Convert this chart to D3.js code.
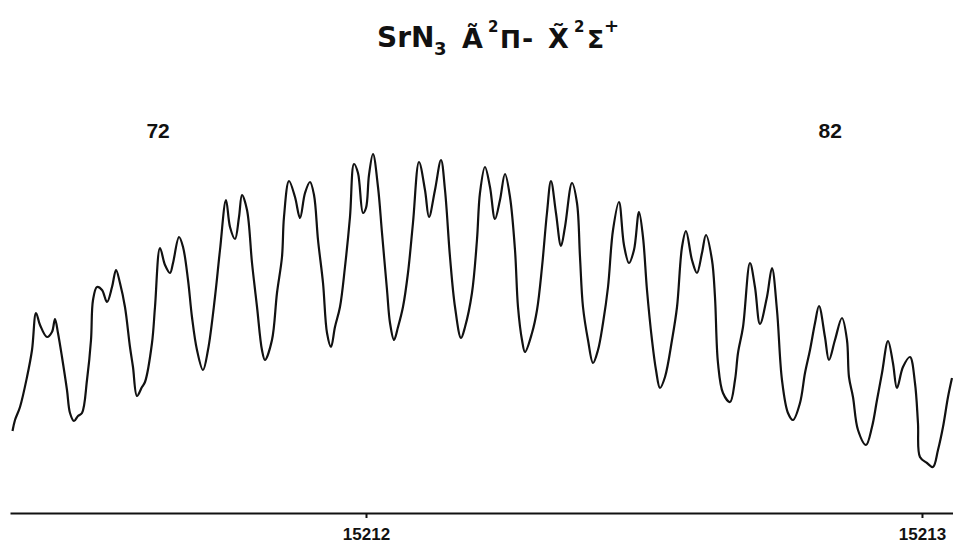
<!DOCTYPE html>
<html>
<head>
<meta charset="utf-8">
<script src="https://cdn.jsdelivr.net/npm/d3@7"></script>
<style>
  body { margin: 0; background: #fff; }
  svg { display: block; }
</style>
</head>
<body>
<div id="chart-container"></div>
<script>
// trace: wavenumber (cm-1) and intensity (arb. units)
const wavenumber = [
  15211.3642, 15211.3687, 15211.3777, 15211.3903, 15211.3993, 15211.4065, 15211.4137, 15211.4262,
  15211.4352, 15211.4406, 15211.4460, 15211.4532, 15211.4622, 15211.4676, 15211.4748, 15211.4820,
  15211.4892, 15211.4982, 15211.5054, 15211.5090, 15211.5162, 15211.5252, 15211.5342, 15211.5432,
  15211.5504, 15211.5575, 15211.5665, 15211.5755, 15211.5809, 15211.5881, 15211.5971, 15211.6025,
  15211.6151, 15211.6205, 15211.6295, 15211.6385, 15211.6475, 15211.6529, 15211.6637, 15211.6709,
  15211.6799, 15211.6870, 15211.6960, 15211.7068, 15211.7158, 15211.7284, 15211.7374, 15211.7482,
  15211.7554, 15211.7644, 15211.7716, 15211.7770, 15211.7860, 15211.7950, 15211.8040, 15211.8129,
  15211.8183, 15211.8309, 15211.8399, 15211.8489, 15211.8525, 15211.8615, 15211.8723, 15211.8813,
  15211.8903, 15211.8993, 15211.9065, 15211.9137, 15211.9227, 15211.9299, 15211.9370, 15211.9442,
  15211.9532, 15211.9622, 15211.9712, 15211.9784, 15211.9856, 15211.9946, 15212.0000, 15212.0054,
  15212.0126, 15212.0216, 15212.0288, 15212.0378, 15212.0432, 15212.0504, 15212.0576, 15212.0665,
  15212.0755, 15212.0845, 15212.0953, 15212.1061, 15212.1133, 15212.1241, 15212.1349, 15212.1421,
  15212.1511, 15212.1601, 15212.1709, 15212.1781, 15212.1906, 15212.1996, 15212.2050, 15212.2140,
  15212.2230, 15212.2320, 15212.2410, 15212.2500, 15212.2590, 15212.2680, 15212.2734, 15212.2806,
  15212.2860, 15212.2986, 15212.3076, 15212.3166, 15212.3255, 15212.3327, 15212.3417, 15212.3507,
  15212.3579, 15212.3705, 15212.3795, 15212.3849, 15212.3903, 15212.3993, 15212.4083, 15212.4173,
  15212.4263, 15212.4353, 15212.4443, 15212.4550, 15212.4640, 15212.4730, 15212.4820, 15212.4910,
  15212.4982, 15212.5054, 15212.5144, 15212.5216, 15212.5288, 15212.5378, 15212.5504, 15212.5594,
  15212.5684, 15212.5755, 15212.5863, 15212.5953, 15212.6043, 15212.6115, 15212.6223, 15212.6277,
  15212.6331, 15212.6421, 15212.6547, 15212.6637, 15212.6691, 15212.6781, 15212.6906, 15212.6996,
  15212.7086, 15212.7212, 15212.7302, 15212.7392, 15212.7482, 15212.7590, 15212.7680, 15212.7806,
  15212.7896, 15212.7986, 15212.8076, 15212.8148, 15212.8255, 15212.8327, 15212.8435, 15212.8561,
  15212.8651, 15212.8687, 15212.8759, 15212.8849, 15212.8993, 15212.9101, 15212.9191, 15212.9281,
  15212.9389, 15212.9478, 15212.9550, 15212.9658, 15212.9784, 15212.9874, 15212.9928, 15212.9964,
  15213.0090, 15213.0198, 15213.0288, 15213.0378, 15213.0468, 15213.0540
]
const intensity = [
  82, 93, 106, 136, 163, 200, 188, 176, 181, 194, 180, 156, 123, 100, 92, 97,
  100, 133, 173, 213, 226, 223, 211, 226, 243, 230, 206, 166, 146, 117, 126, 131,
  170, 206, 265, 248, 240, 250, 276, 266, 233, 196, 163, 143, 163, 216, 263, 313,
  286, 274, 296, 318, 303, 250, 206, 163, 153, 173, 220, 256, 296, 332, 316, 295,
  320, 331, 318, 273, 230, 180, 166, 186, 206, 246, 296, 349, 340, 300, 305, 338,
  359, 326, 280, 223, 190, 173, 186, 206, 240, 290, 351, 323, 296, 323, 353, 323,
  256, 206, 175, 186, 220, 273, 320, 346, 326, 294, 313, 339, 316, 263, 206, 173,
  161, 180, 203, 246, 300, 332, 300, 267, 286, 330, 310, 256, 206, 173, 150, 163,
  190, 226, 283, 311, 268, 250, 263, 301, 276, 223, 173, 143, 125, 136, 173, 206,
  266, 282, 253, 240, 260, 278, 253, 216, 150, 120, 111, 133, 160, 186, 250, 226,
  189, 216, 245, 203, 133, 100, 93, 110, 140, 163, 190, 207, 176, 153, 173, 195,
  173, 136, 116, 83, 68, 86, 113, 140, 172, 150, 125, 146, 156, 130, 90, 56,
  50, 46, 63, 86, 116, 135
]
const tickValues = [15212, 15213]
const bandLabels = ['72', '82']
const bandLabelWavenumber = [15211.626, 15212.835]
const bandLabelIntensity = 375

const width = 953
const height = 545

const data = wavenumber.map((w, i) => ({ w, v: intensity[i] }))

const svg = d3
  .select('#chart-container')
  .append('svg')
  .attr('width', width)
  .attr('height', height)
  .attr('viewBox', `0 0 ${width} ${height}`)

const x = d3.scaleLinear().domain([15211.3597, 15213.0558]).range([10, 953])
const y = d3.scaleLinear().domain([0, 400]).range([513, 113])

// spectrum trace
svg
  .append('path')
  .datum(data)
  .attr('fill', 'none')
  .attr('stroke', '#111')
  .attr('stroke-width', 2.2)
  .attr('stroke-linejoin', 'round')
  .attr('d', d3.line().x(d => x(d.w)).y(d => y(d.v)).curve(d3.curveCatmullRom.alpha(0.5)))

// wavenumber axis
const axis = svg
  .append('g')
  .attr('transform', `translate(0, ${y(0)})`)
  .call(
    d3
      .axisBottom(x)
      .tickValues(tickValues)
      .tickSize(5)
      .tickSizeOuter(0)
      .tickFormat(d3.format('d')),
  )
axis.select('.domain').attr('stroke', '#111').attr('stroke-width', 2)
axis.selectAll('.tick line').attr('stroke', '#111').attr('stroke-width', 2)
axis
  .selectAll('.tick text')
  .attr('y', 27)
  .attr('dy', null)
  .attr('fill', '#111')
  .attr('font-family', '"Liberation Sans Narrow", "Liberation Sans", sans-serif')
  .attr('font-weight', 'bold')
  .attr('font-size', 17)

// rotational quantum number labels
svg
  .append('g')
  .selectAll('text')
  .data(bandLabels)
  .join('text')
  .attr('x', (d, i) => x(bandLabelWavenumber[i]))
  .attr('y', y(bandLabelIntensity))
  .attr('text-anchor', 'middle')
  .attr('font-family', '"Liberation Sans", sans-serif')
  .attr('font-weight', 'bold')
  .attr('font-size', 21)
  .attr('fill', '#111')
  .text(d => d)

// title
const title = svg
  .append('text')
  .attr('font-family', '"DejaVu Sans", sans-serif')
  .attr('font-weight', 'bold')
  .attr('fill', '#111')
const titleParts = [
  { t: 'SrN', x: 377, y: 47, s: 28 },
  { t: '3', x: 434, y: 55, s: 18 },
  { t: 'Ã', x: 462, y: 48, s: 27 },
  { t: '2', x: 488, y: 32, s: 15 },
  { t: 'Π', x: 500, y: 48, s: 25 },
  { t: '-', x: 522, y: 48, s: 27 },
  { t: 'X\u0303', x: 548, y: 48, s: 27 },
  { t: '2', x: 574, y: 32, s: 15 },
  { t: 'Σ', x: 587, y: 48, s: 25 },
  { t: '+', x: 604, y: 32, s: 18 },
]
title
  .selectAll('tspan')
  .data(titleParts)
  .join('tspan')
  .attr('x', d => d.x)
  .attr('y', d => d.y)
  .attr('font-size', d => d.s)
  .text(d => d.t)
</script>
</body>
</html>
